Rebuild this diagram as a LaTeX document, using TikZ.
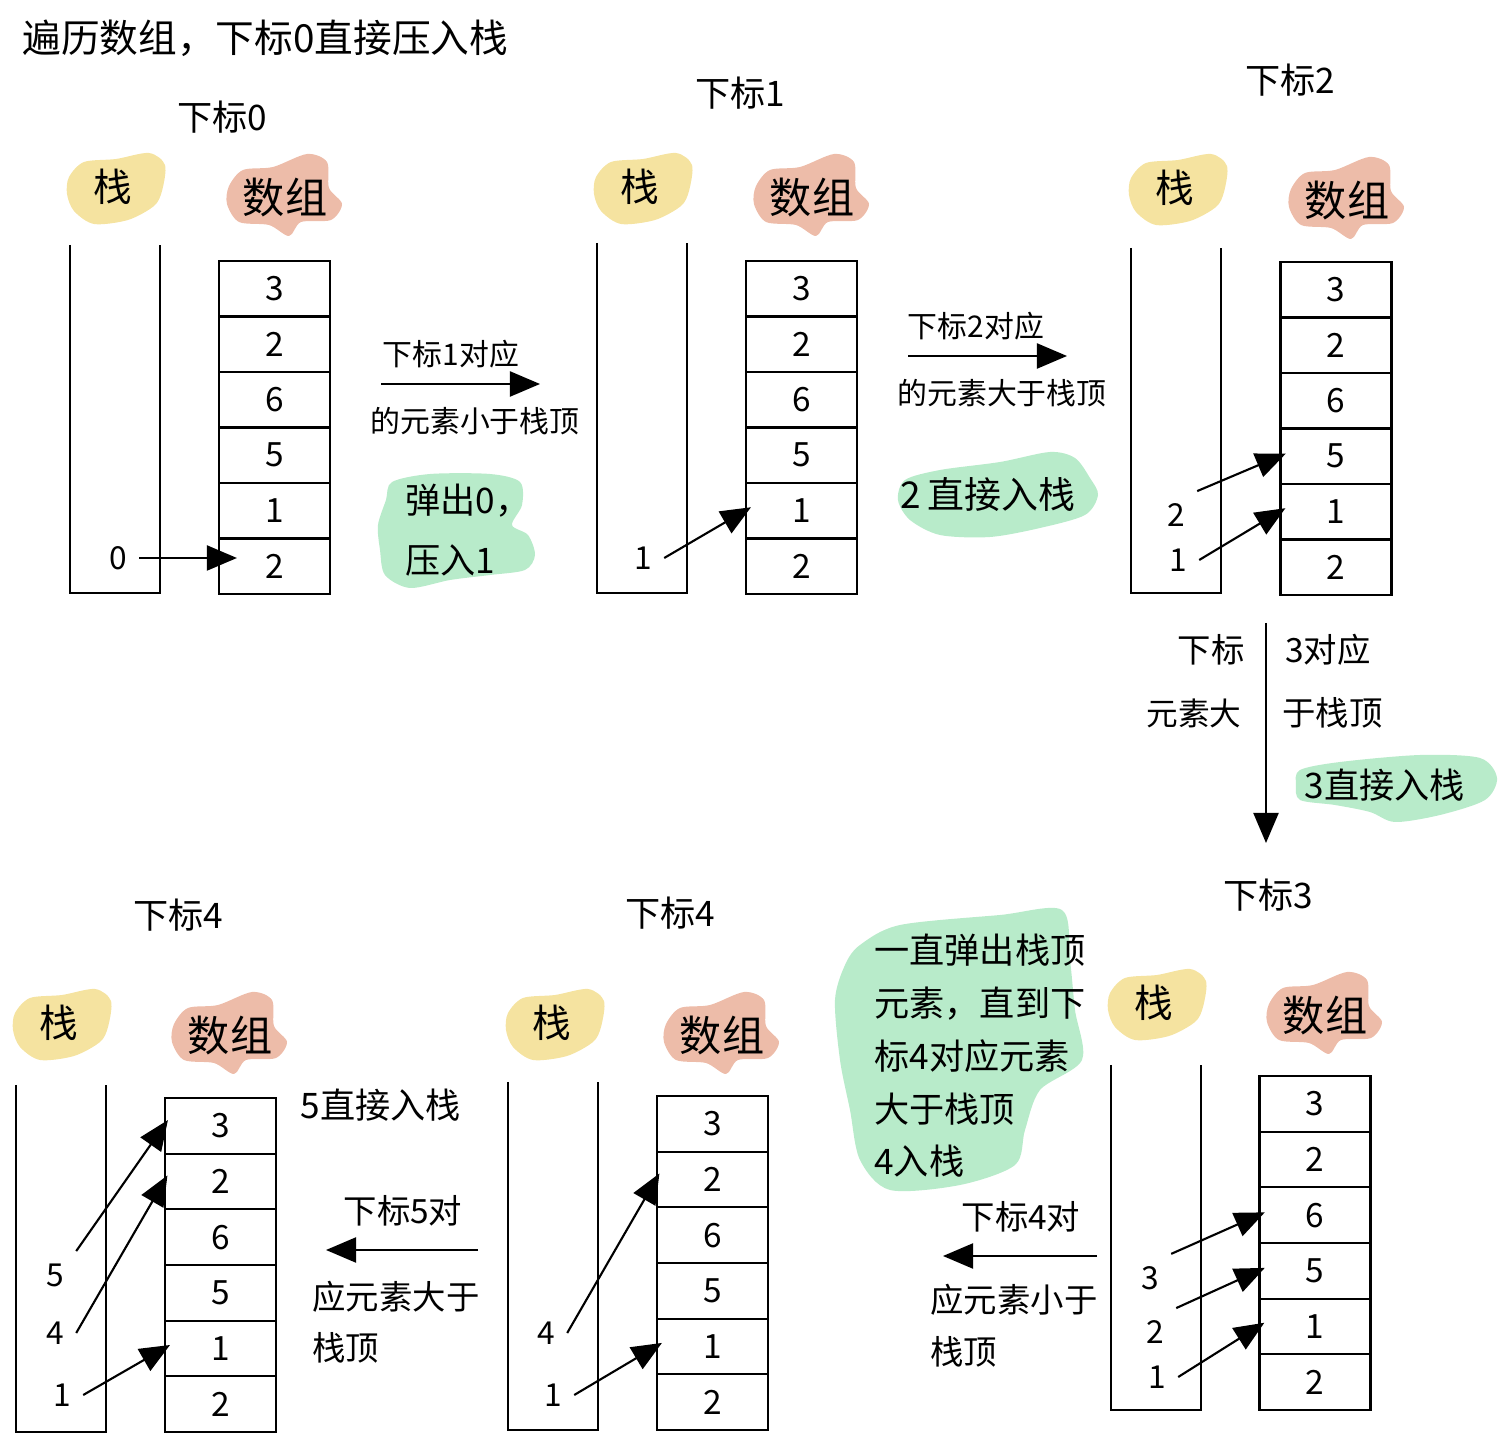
\documentclass[tikz,border=0pt]{standalone}
\usepackage{fontspec}
\setmainfont{Noto Sans CJK SC}
\usetikzlibrary{arrows.meta}
\definecolor{blobyellow}{HTML}{F5E3A0}
\definecolor{blobpink}{HTML}{EDBCA9}
\definecolor{blobgreen}{HTML}{B8EBCA}
\tikzset{
  heading/.style={font=\fontsize{11}{13}\selectfont},
  title/.style={font=\fontsize{10}{12}\selectfont},
  note/.style={font=\fontsize{8.5}{10}\selectfont},
  bignote/.style={font=\fontsize{9.5}{11}\selectfont},
  greennote/.style={font=\fontsize{10}{12}\selectfont},
  idx/.style={font=\fontsize{9}{10}\selectfont},
  cell/.style={draw, line width=0.6pt, minimum width=1.11cm, minimum height=0.556cm, inner sep=0pt, font=\fontsize{9.5}{10}\selectfont},
  wall/.style={line width=0.6pt},
  arr/.style={-{Triangle[length=0.3cm,width=0.25cm]}, line width=0.6pt, shorten >=-0.07cm},
  stacktag/.pic={
    \fill[blobyellow] plot[smooth cycle] coordinates {(-47,-12) (-32,-27) (0,-30) (33,-36) (49,-24) (46,2) (38,17) (12,31) (-22,35) (-42,22) (-49,5)};
    \node[font=\fontsize{11}{12}\selectfont] (-t) at (-3,-2) {栈};
  },
  arraytag/.pic={
    \fill[blobpink] plot[smooth cycle] coordinates {(-56,-8) (-42,-24) (-12,-27) (22,-40) (42,-32) (44,-6) (57,10) (46,26) (16,28) (4,42) (-16,31) (-46,28) (-58,10)};
    \node[font=\fontsize{12}{13}\selectfont] (-t) at (0,4) {数组};
  }
}
\begin{document}
\begin{tikzpicture}[x=0.01cm, y=-0.01cm]
\useasboundingbox (0,0) rectangle (1511,1452);
\node[heading, anchor=west] (head) at (10,38) {遍历数组，下标0直接压入栈}; % Heading
% green notes first, text goes over them
\fill[blobgreen] plot[smooth cycle] coordinates {(392,482) (430,474) (490,474) (520,482) (522,505) (512,525) (528,535) (535,555) (525,570) (490,575) (450,580) (410,588) (385,575) (380,550) (378,525) (386,500)}; % Note.pop0
\fill[blobgreen] plot[smooth cycle] coordinates {(905,480) (940,470) (1000,462) (1050,452) (1075,458) (1090,478) (1098,495) (1085,515) (1040,528) (990,537) (940,535) (910,520) (898,500)}; % Note.push2
\fill[blobgreen] plot[smooth cycle] coordinates {(1300,770) (1340,762) (1420,755) (1480,758) (1497,778) (1485,800) (1440,815) (1395,822) (1370,812) (1335,805) (1300,800) (1296,785)}; % Note.push3
\fill[blobgreen] plot[smooth cycle] coordinates {(860,945) (900,925) (1000,915) (1062,910) (1070,960) (1075,1010) (1082,1060) (1040,1090) (1025,1130) (1015,1165) (960,1185) (890,1190) (860,1160) (850,1110) (840,1060) (835,1000) (845,965)}; % Note.pop4
% index 0
\node[title] (p1t) at (222,117) {下标0};
\pic (p1s) at (116,189) {stacktag};
\pic (p1a) at (285,194) {arraytag};
\draw[wall] (70,245) -- (70,593) -- (160,593) -- (160,245); % Stack.p1
\node[cell] (p1c1) at (274.5,288.8) {3};
\node[cell] (p1c2) at (274.5,344.3) {2};
\node[cell] (p1c3) at (274.5,399.8) {6};
\node[cell] (p1c4) at (274.5,455.3) {5};
\node[cell] (p1c5) at (274.5,510.8) {1};
\node[cell] (p1c6) at (274.5,566.3) {2};
\node[idx] (p1i0) at (118,558) {0};
\draw[arr, shorten >=-0.19cm] (p1i0.east) -- (p1i0.east -| p1c6.west); % Push.0
% index 0 -> 1
\coordinate (a1s) at (381,384);
\coordinate (a1e) at (540,384);
\draw[arr, shorten >=0pt] (a1s) -- (a1e); % Step.1
\node[note] (a1top) at (451,354) {下标1对应};
\node[note] (a1bot) at (475,421) {的元素小于栈顶};
\node[font=\fontsize{10}{17}\selectfont, anchor=north west, align=left] (a1msg) at (393,472) {弹出0，\\压入1};
% index 1
\node[title] (p2t) at (740,93) {下标1};
\pic (p2s) at (643,189) {stacktag};
\pic (p2a) at (812,194) {arraytag};
\draw[wall] (597,243) -- (597,593) -- (687,593) -- (687,243); % Stack.p2
\node[cell] (p2c1) at (801.5,288.8) {3};
\node[cell] (p2c2) at (801.5,344.3) {2};
\node[cell] (p2c3) at (801.5,399.8) {6};
\node[cell] (p2c4) at (801.5,455.3) {5};
\node[cell] (p2c5) at (801.5,510.8) {1};
\node[cell] (p2c6) at (801.5,566.3) {2};
\node[idx] (p2i1) at (643,558) {1};
\draw[arr] (p2i1.east) -- (p2c5.west); % Push.1
% index 1 -> 2
\coordinate (a2s) at (908,356);
\coordinate (a2e) at (1067,356);
\draw[arr, shorten >=0pt] (a2s) -- (a2e); % Step.2
\node[note] (a2top) at (976,326) {下标2对应};
\node[note] (a2bot) at (1002,393) {的元素大于栈顶};
\node[font=\fontsize{10.5}{12}\selectfont] (a2msg) at (988,494) {2\,直接入栈};
% index 2
\node[title] (p3t) at (1290,80) {下标2};
\pic (p3s) at (1178,190) {stacktag};
\pic (p3a) at (1347,197) {arraytag};
\draw[wall] (1131,248) -- (1131,593) -- (1221,593) -- (1221,248); % Stack.p3
\node[cell] (p3c1) at (1336,289.8) {3};
\node[cell] (p3c2) at (1336,345.3) {2};
\node[cell] (p3c3) at (1336,400.8) {6};
\node[cell] (p3c4) at (1336,456.3) {5};
\node[cell] (p3c5) at (1336,511.8) {1};
\node[cell] (p3c6) at (1336,567.3) {2};
\node[idx] (p3i2) at (1176,515) {2};
\node[idx] (p3i1) at (1178,560) {1};
\draw[arr] (p3i2.north east) -- (p3c4.west); % Push.2
\draw[arr] (p3i1.east) -- (p3c5.west); % Push.1
% index 2 -> 3
\coordinate (a3s) at (1266,623);
\coordinate (a3e) at (1266,843);
\draw[arr, shorten >=0pt] (a3s) -- (a3e); % Step.3
\node[font=\fontsize{9.5}{11}\selectfont, anchor=east] (a3l1) at (1257,650) {下标};
\node[font=\fontsize{9.5}{11}\selectfont, anchor=west] (a3r1) at (1273,650) {3对应};
\node[font=\fontsize{9}{11}\selectfont, anchor=east] (a3l2) at (1254,713) {元素大};
\node[font=\fontsize{9.5}{11}\selectfont, anchor=west] (a3r2) at (1270,713) {于栈顶};
\node[greennote] (a3msg) at (1385,785) {3直接入栈};
% index 3
\node[title] (p4t) at (1268,895) {下标3};
\pic (p4s) at (1157,1005) {stacktag};
\pic (p4a) at (1325,1012) {arraytag};
\draw[wall] (1111,1065) -- (1111,1410) -- (1201,1410) -- (1201,1065); % Stack.p4
\node[cell] (p4c1) at (1315,1103.8) {3};
\node[cell] (p4c2) at (1315,1159.5) {2};
\node[cell] (p4c3) at (1315,1215.2) {6};
\node[cell] (p4c4) at (1315,1270.8) {5};
\node[cell] (p4c5) at (1315,1326.5) {1};
\node[cell] (p4c6) at (1315,1382.2) {2};
\node[idx] (p4i3) at (1150,1278) {3};
\node[idx] (p4i2) at (1155,1332) {2};
\node[idx] (p4i1) at (1157,1377) {1};
\draw[arr] (p4i3.north east) -- (p4c3.west); % Push.3
\draw[arr] (p4i2.north east) -- (p4c4.west); % Push.2
\draw[arr] (p4i1.east) -- (p4c5.west); % Push.1
\node[font=\fontsize{10}{15}\selectfont, anchor=north west, align=left] (p4msg) at (862,922) {一直弹出栈顶\\元素，直到下\\标4对应元素\\大于栈顶\\4入栈};
% index 3 -> 4
\coordinate (a4s) at (1097,1256);
\coordinate (a4e) at (943,1256);
\draw[arr, shorten >=0pt] (a4s) -- (a4e); % Step.4
\node[bignote] (a4top) at (1021,1217) {下标4对};
\node[bignote, anchor=west] (a4mid) at (918,1300) {应元素小于};
\node[bignote, anchor=west] (a4bot) at (918,1352) {栈顶};
% index 4
\node[title] (p5t) at (670,913) {下标4};
\pic (p5s) at (555,1025) {stacktag};
\pic (p5a) at (722,1032) {arraytag};
\draw[wall] (508,1082) -- (508,1430) -- (598,1430) -- (598,1082); % Stack.p5
\node[cell] (p5c1) at (712.5,1123.8) {3};
\node[cell] (p5c2) at (712.5,1179.5) {2};
\node[cell] (p5c3) at (712.5,1235.2) {6};
\node[cell] (p5c4) at (712.5,1290.8) {5};
\node[cell] (p5c5) at (712.5,1346.5) {1};
\node[cell] (p5c6) at (712.5,1402.2) {2};
\node[idx] (p5i4) at (546,1333) {4};
\node[idx] (p5i1) at (553,1395) {1};
\draw[arr] (p5i4.east) -- (p5c2.west); % Push.4
\draw[arr] (p5i1.east) -- (p5c5.west); % Push.1
% index 4 -> 5
\coordinate (a5s) at (478,1250);
\coordinate (a5e) at (326,1250);
\draw[arr, shorten >=0pt] (a5s) -- (a5e); % Step.5
\node[bignote] (a5top) at (403,1211) {下标5对};
\node[bignote, anchor=west] (a5mid) at (300,1297) {应元素大于};
\node[bignote, anchor=west] (a5bot) at (300,1348) {栈顶};
\node[greennote] (a5msg) at (381,1105) {5直接入栈};
% index 5
\node[title] (p6t) at (178,915) {下标4};
\pic (p6s) at (62,1025) {stacktag};
\pic (p6a) at (230,1032) {arraytag};
\draw[wall] (16,1085) -- (16,1432) -- (106,1432) -- (106,1085); % Stack.p6
\node[cell] (p6c1) at (220.5,1125.8) {3};
\node[cell] (p6c2) at (220.5,1181.5) {2};
\node[cell] (p6c3) at (220.5,1237.2) {6};
\node[cell] (p6c4) at (220.5,1292.8) {5};
\node[cell] (p6c5) at (220.5,1348.5) {1};
\node[cell] (p6c6) at (220.5,1404.2) {2};
\node[idx] (p6i5) at (55,1275) {5};
\node[idx] (p6i4) at (55,1333) {4};
\node[idx] (p6i1) at (62,1395) {1};
\draw[arr] (p6i5.north east) -- (p6c1.west); % Push.5
\draw[arr] (p6i4.east) -- (p6c2.west); % Push.4
\draw[arr] (p6i1.east) -- (p6c5.west); % Push.1
\end{tikzpicture}
\end{document}
